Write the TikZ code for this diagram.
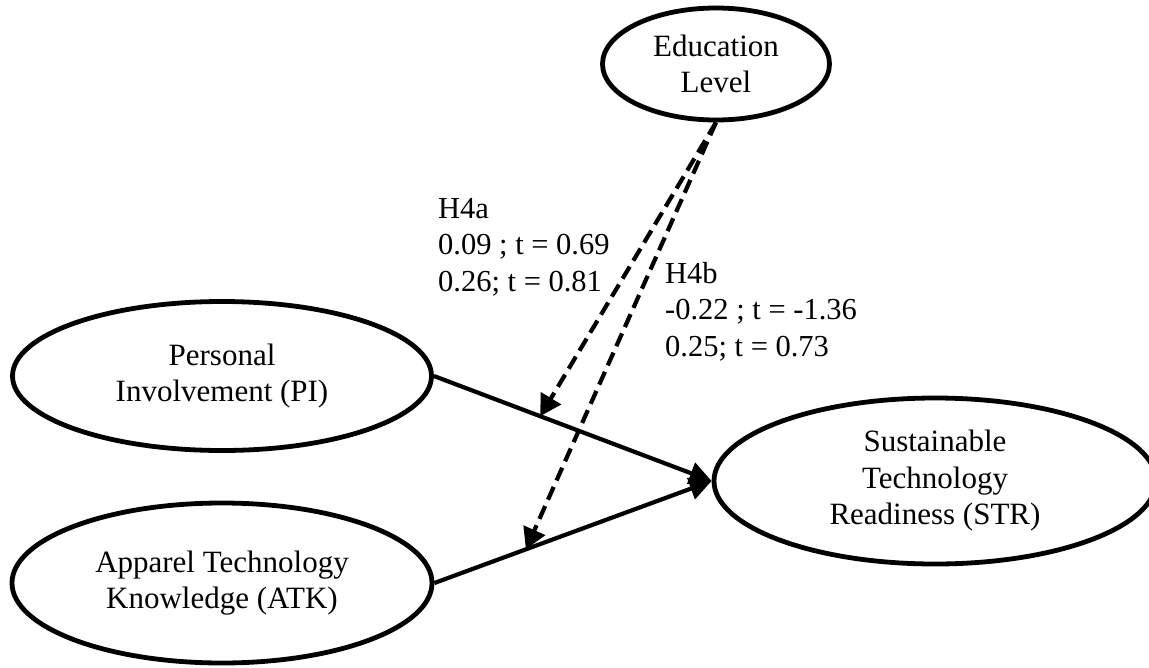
\documentclass[tikz,border=0pt]{standalone}
\usepackage{fontspec}
\setmainfont{Liberation Serif}
\usetikzlibrary{shapes,arrows,positioning,calc,arrows.meta}

\begin{document}
\begin{tikzpicture}[x=1pt,y=-1pt,
  construct/.style={ellipse,draw,line width=4.8pt,inner sep=0pt,align=center,
    font=\fontsize{31}{36.5}\selectfont},
  effect/.style={line width=4.2pt,-{Triangle[length=22pt,width=22pt]}},
  moder/.style={line width=4.2pt,dash pattern=on 14pt off 7pt,
    -{Triangle[length=21pt,width=23pt]}},
  coef/.style={anchor=north west,inner sep=0pt,align=left,
    font=\fontsize{30.5}{36.5}\selectfont}]
\useasboundingbox (0,0) rectangle (1149,667);
% Constructs
\node[construct,minimum width=227pt,minimum height=112pt] (edu) at (716,64) {Education\\Level};
\node[construct,minimum width=419pt,minimum height=149pt] (pi) at (222,376) {Personal\\Involvement (PI)};
\node[construct,minimum width=420pt,minimum height=160pt] (atk) at (222,583) {Apparel Technology\\Knowledge (ATK)};
\node[construct,minimum width=442pt,minimum height=166pt] (str) at (935,481) {Sustainable\\Technology\\Readiness (STR)};
% Direct paths
\draw[effect] (pi.east) -- (str.west);
\draw[effect] (atk.east) -- (str.west);
% Moderation by education
\coordinate (hA) at ($(pi.east)!0.383!(str.west)$);
\coordinate (hB) at ($(atk.east)!0.33!(str.west)$);
\draw[moder] (edu.south) -- (hA);
\draw[moder] (edu.south) -- (hB);
\node[coef] (ha) at (438,198) {H4a\\0.09 ; t = 0.69\\0.26; t = 0.81};
\node[coef] (hb) at (665,262) {H4b\\-0.22 ; t = -1.36\\0.25; t = 0.73};
\end{tikzpicture}
\end{document}
